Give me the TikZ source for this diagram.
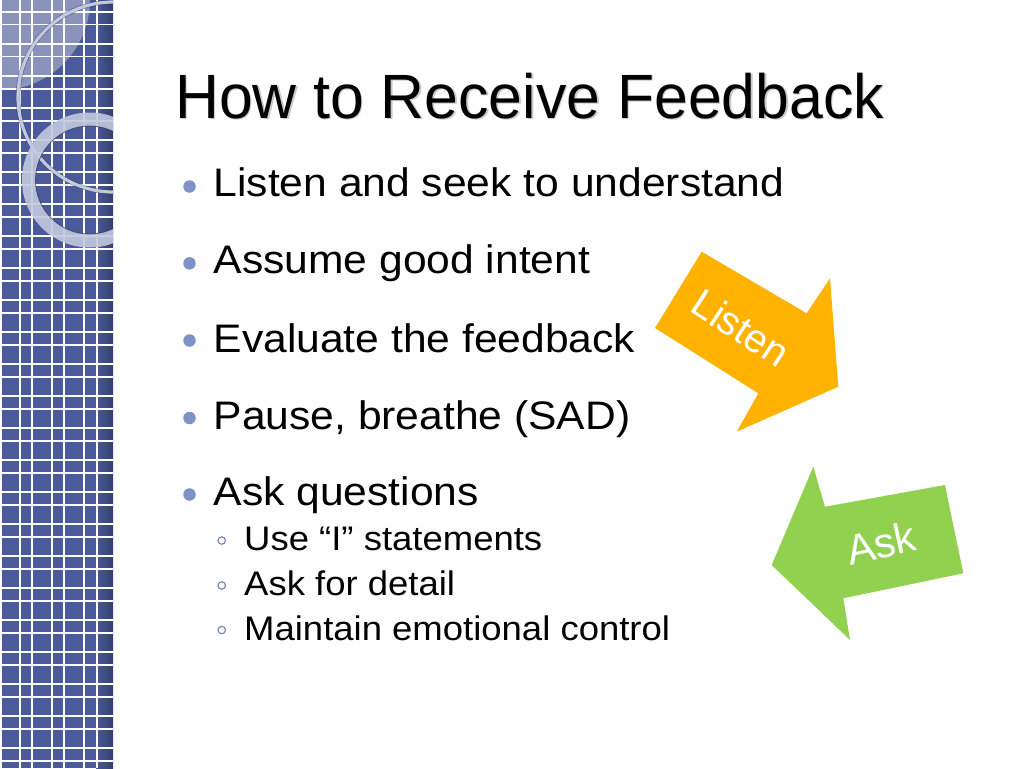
\documentclass[tikz,border=0pt]{standalone}
\usepackage{fontspec}
\setmainfont{Liberation Sans}
\newfontfamily\bodyfont[FakeStretch=1.07]{Liberation Sans}
\newfontfamily\titlefont[FakeStretch=0.97]{Liberation Sans}
\definecolor{stripblue}{HTML}{4A5A9A}
\definecolor{lightquad}{HTML}{8A93BC}
\definecolor{ringcol}{HTML}{C2C8DE}
\definecolor{bulletblue}{HTML}{7F92C8}
\definecolor{arroworange}{HTML}{FFB300}
\definecolor{arrowgreen}{HTML}{92D050}
\tikzset{
  maintext/.style={anchor=base west, inner sep=0pt, font=\bodyfont\fontsize{39.8}{44}\selectfont},
  subtext/.style={anchor=base west, inner sep=0pt, font=\bodyfont\fontsize{34.1}{38}\selectfont},
  titletext/.style={anchor=base west, inner sep=0pt, font=\titlefont\fontsize{62.6}{70}\selectfont},
  dotbullet/.style={circle, fill=bulletblue, minimum size=12.5pt, inner sep=0pt},
  ringbullet/.style={circle, draw=bulletblue!90!black, line width=1.1pt, minimum size=7.5pt, inner sep=0pt},
  arrowlabel/.style={text=white, inner sep=0pt},
}
\begin{document}
\begin{tikzpicture}[x=1pt,y=-1pt]
\useasboundingbox (0,0) rectangle (1024,768);
\fill[white] (0,0) rectangle (1024,768);
% left strip
\begin{scope}
\clip (0,0) rectangle (113,768);
\fill[stripblue] (0,0) rectangle (113,768);
\fill[lightquad] (0,0) circle (90);
\shade[left color=stripblue, right color=stripblue!70!black] (96,0) rectangle (113,768);
\foreach \x in {1,20,32,52,64,84,97} \draw[white, line width=1.6pt] (\x,0) -- (\x,768);
\foreach \k in {0,...,24} {
  \draw[white, line width=1.6pt] (0,12+32*\k) -- (113,12+32*\k);
  \draw[white, line width=1.6pt] (0,24.7+32*\k) -- (113,24.7+32*\k);
}
% thin ring
\draw[stripblue!60!black, line width=4.5pt, opacity=0.5] (113,97) circle (95);
\draw[ringcol, line width=3.2pt] (113,97) circle (95);
% thick ring
\fill[ringcol, opacity=0.9, even odd rule] (89.5,180) circle (67.5) (89.5,180) circle (54);
\draw[stripblue!50!black, line width=0.8pt, opacity=0.7] (89.5,180) circle (54);
\end{scope}
% title
\node[titletext, text=black!35, opacity=0.6] (titleshadow) at (176.5,119.8) {How to Receive Feedback};
\node[titletext] (title) at (175,118.3) {How to Receive Feedback};
% bullets
\node[dotbullet] (b1) at (189.5,186.5) {};
\node[maintext] (t1) at (213.5,196.7) {Listen and seek to understand};
\node[dotbullet] (b2) at (189.5,263.3) {};
\node[maintext] (t2) at (213.5,273.4) {Assume good intent};
\node[dotbullet] (b3) at (189.5,340.5) {};
\node[maintext] (t3) at (213.5,352.2) {Evaluate the feedback};
\node[dotbullet] (b4) at (189.5,418) {};
\node[maintext] (t4) at (213.5,429.3) {Pause, breathe (SAD)};
\node[dotbullet] (b5) at (189.5,494.5) {};
\node[maintext] (t5) at (213.5,505.5) {Ask questions};
\node[ringbullet] (s1) at (221.7,540.5) {};
\node[subtext] (u1) at (244,550.7) {Use “I” statements};
\node[ringbullet] (s2) at (221.7,585.5) {};
\node[subtext] (u2) at (244,595.8) {Ask for detail};
\node[ringbullet] (s3) at (221.7,630) {};
\node[subtext] (u3) at (244,640.3) {Maintain emotional control};
% orange arrow
\fill[arroworange] (655,328) -- (701.7,251.7) -- (806.7,313.3) -- (830,278.3) -- (838.3,386.7) -- (736.7,431.7) -- (758.3,393.3) -- cycle;
\node[arrowlabel, rotate=-33, font=\fontsize{40}{44}\selectfont] (listen) at (741,328) {Listen};
% green arrow
\fill[arrowgreen] (771.7,565) -- (813.3,466.7) -- (825,506.7) -- (945,485) -- (963.3,573.3) -- (843.3,598.3) -- (850,640) -- cycle;
\node[arrowlabel, rotate=12.5, font=\fontsize{42}{46}\selectfont] (ask) at (881,543) {Ask};
\end{tikzpicture}
\end{document}
